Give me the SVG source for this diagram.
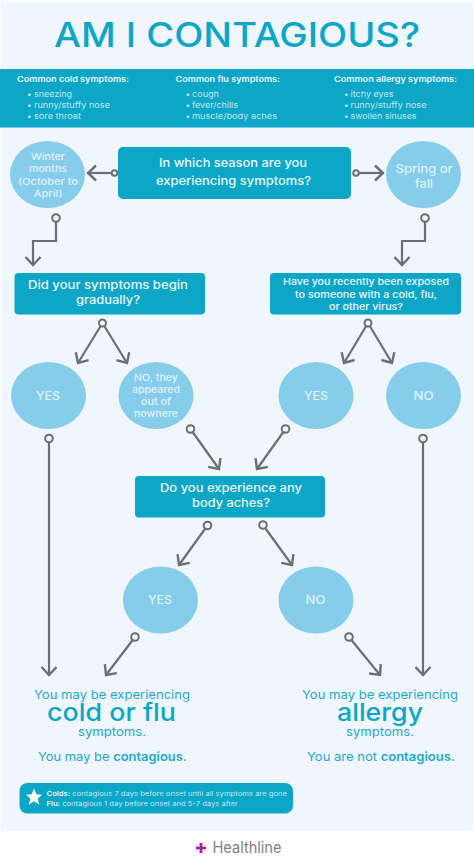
<svg xmlns="http://www.w3.org/2000/svg" width="474" height="861" viewBox="0 0 474 861">
<style>
text{font-family:Inter,"Noto Sans","DejaVu Sans",sans-serif;text-anchor:middle}
.box{fill:#0ea6c7}
.cir{fill:#85cdea}
.t{fill:#e8f7fb;font-weight:500}
.tc{fill:#dff3fa;font-weight:500}
.h{fill:#e8f7fb;font-size:8.200px;font-weight:600;text-anchor:start}
.li{fill:#bfe8f2;font-size:8.200px;font-weight:400;text-anchor:start}
.o{fill:#1fa9c9;font-size:12px;font-weight:400}
.b{font-weight:600}
.big{fill:#0ea6c7;font-size:24.500px;font-weight:500}
.lg{fill:#bfe8f2;font-size:6.500px;text-anchor:start}
.c{fill:none;stroke:#6d6e71;stroke-width:2.200}
.r{fill:#eff6fd;stroke:#6d6e71;stroke-width:2}
</style>
<defs>
<marker id="a" markerUnits="userSpaceOnUse" markerWidth="16" markerHeight="18" refX="11" refY="9" orient="auto" overflow="visible"><path d="M3 1.500L11 9L3 16.500" fill="none" stroke="#6d6e71" stroke-width="2.400"/></marker>
</defs>
<rect width="474" height="861" fill="#fff"/>
<rect x="1" y="2" width="472" height="829" fill="#eff6fd"/>
<text id="title" x="237" y="47" font-size="34" textLength="366" lengthAdjust="spacingAndGlyphs" style="fill:#0ea6c7;font-weight:500">AM I CONTAGIOUS?</text>
<g id="symptoms">
<rect y="69" width="474" height="58.500" class="box"/>
<text class="h" x="17" y="82" textLength="112" lengthAdjust="spacingAndGlyphs">Common cold symptoms:</text>
<text class="li" x="27" y="97"><tspan>•</tspan><tspan x="34" textLength="38" lengthAdjust="spacingAndGlyphs">sneezing</tspan></text>
<text class="li" x="27" y="108"><tspan>•</tspan><tspan x="34" textLength="76" lengthAdjust="spacingAndGlyphs">runny/stuffy nose</tspan></text>
<text class="li" x="27" y="119"><tspan>•</tspan><tspan x="34" textLength="47" lengthAdjust="spacingAndGlyphs">sore throat</tspan></text>
<text class="h" x="175.500" y="82" textLength="104.500" lengthAdjust="spacingAndGlyphs">Common flu symptoms:</text>
<text class="li" x="185.500" y="97"><tspan>•</tspan><tspan x="192" textLength="27" lengthAdjust="spacingAndGlyphs">cough</tspan></text>
<text class="li" x="185.500" y="108"><tspan>•</tspan><tspan x="192" textLength="46" lengthAdjust="spacingAndGlyphs">fever/chills</tspan></text>
<text class="li" x="185.500" y="119"><tspan>•</tspan><tspan x="192" textLength="85" lengthAdjust="spacingAndGlyphs">muscle/body aches</tspan></text>
<text class="h" x="334" y="82" textLength="123" lengthAdjust="spacingAndGlyphs">Common allergy symptoms:</text>
<text class="li" x="344" y="97"><tspan>•</tspan><tspan x="350.500" textLength="43" lengthAdjust="spacingAndGlyphs">itchy eyes</tspan></text>
<text class="li" x="344" y="108"><tspan>•</tspan><tspan x="350.500" textLength="76" lengthAdjust="spacingAndGlyphs">runny/stuffy nose</tspan></text>
<text class="li" x="344" y="119"><tspan>•</tspan><tspan x="350.500" textLength="66" lengthAdjust="spacingAndGlyphs">swollen sinuses</tspan></text>
</g>
<g id="connectors">
<path class="c" d="M114 173H88" marker-end="url(#a)"/>
<path class="c" d="M357 173H383" marker-end="url(#a)"/>
<path class="c" d="M56 218V241H33V265" marker-end="url(#a)"/>
<path class="c" d="M425 218V241H402V265" marker-end="url(#a)"/>
<path class="c" d="M102.500 323L78 363" marker-end="url(#a)"/>
<path class="c" d="M102.500 323L127 363" marker-end="url(#a)"/>
<path class="c" d="M368 323L344 363" marker-end="url(#a)"/>
<path class="c" d="M368 323L392 363" marker-end="url(#a)"/>
<path class="c" d="M49 439V675" marker-end="url(#a)"/>
<path class="c" d="M423 439V675" marker-end="url(#a)"/>
<path class="c" d="M190.500 429L219 469" marker-end="url(#a)"/>
<path class="c" d="M285.500 429L257 469" marker-end="url(#a)"/>
<path class="c" d="M207.500 525.500L179 565" marker-end="url(#a)"/>
<path class="c" d="M263 525L292 565" marker-end="url(#a)"/>
<path class="c" d="M135 637L106 675" marker-end="url(#a)"/>
<path class="c" d="M349 637L380 675" marker-end="url(#a)"/>
<circle class="r" cx="114.500" cy="173" r="2.800"/>
<circle class="r" cx="356" cy="173" r="2.800"/>
<circle class="r" cx="56" cy="218" r="3.800"/>
<circle class="r" cx="425" cy="218" r="3.800"/>
<circle class="r" cx="102.500" cy="323" r="3.500"/>
<circle class="r" cx="368" cy="323" r="3.500"/>
<circle class="r" cx="49" cy="438.500" r="3.800"/>
<circle class="r" cx="423" cy="438.500" r="3.800"/>
<circle class="r" cx="190.500" cy="429" r="3.800"/>
<circle class="r" cx="285.500" cy="429" r="3.800"/>
<circle class="r" cx="207.500" cy="525.500" r="3.800"/>
<circle class="r" cx="263" cy="525" r="3.800"/>
<circle class="r" cx="135" cy="637" r="3.800"/>
<circle class="r" cx="349" cy="637" r="3.800"/>
</g>
<g id="season">
<rect class="box" x="118" y="147" width="233" height="52" rx="5"/>
<text class="t" font-size="12" x="233" y="167" textLength="148" lengthAdjust="spacingAndGlyphs">In which season are you</text>
<text class="t" font-size="12" x="233.500" y="185" textLength="155" lengthAdjust="spacingAndGlyphs">experiencing symptoms?</text>
</g>
<g id="winter">
<ellipse class="cir" cx="47.500" cy="174.500" rx="37.500" ry="33.500"/>
<text class="tc" font-size="9.500" x="48" y="160" textLength="34" lengthAdjust="spacingAndGlyphs">Winter</text>
<text class="tc" font-size="9.500" x="48" y="172" textLength="38" lengthAdjust="spacingAndGlyphs">months</text>
<text class="tc" font-size="9.500" x="48" y="185" textLength="60" lengthAdjust="spacingAndGlyphs">(October to</text>
<text class="tc" font-size="9.500" x="48" y="197" textLength="29" lengthAdjust="spacingAndGlyphs">April)</text>
</g>
<g id="spring">
<ellipse class="cir" cx="423.500" cy="174.500" rx="37.500" ry="33.500"/>
<text class="tc" font-size="12" x="424" y="173" textLength="57" lengthAdjust="spacingAndGlyphs">Spring or</text>
<text class="tc" font-size="12" x="424" y="188" textLength="18" lengthAdjust="spacingAndGlyphs">fall</text>
</g>
<g id="gradual">
<rect class="box" x="14.500" y="273" width="190.500" height="41.500" rx="4"/>
<text class="t" font-size="11.500" x="108" y="289" textLength="160" lengthAdjust="spacingAndGlyphs">Did your symptoms begin</text>
<text class="t" font-size="11.500" x="108" y="304" textLength="64" lengthAdjust="spacingAndGlyphs">gradually?</text>
</g>
<g id="exposed">
<rect class="box" x="270" y="273" width="191" height="41.500" rx="4"/>
<text class="t" font-size="9.500" x="366" y="285" textLength="166" lengthAdjust="spacingAndGlyphs">Have you recently been exposed</text>
<text class="t" font-size="9.500" x="366" y="298" textLength="142" lengthAdjust="spacingAndGlyphs">to someone with a cold, flu,</text>
<text class="t" font-size="9.500" x="366" y="310" textLength="74" lengthAdjust="spacingAndGlyphs">or other virus?</text>
</g>
<g id="yes1">
<ellipse class="cir" cx="48.500" cy="395.500" rx="37.500" ry="33.500"/>
<text class="tc" font-size="11.500" x="48" y="400" textLength="24" lengthAdjust="spacingAndGlyphs">YES</text>
</g>
<g id="no1">
<ellipse class="cir" cx="156" cy="395.500" rx="37.500" ry="33.500"/>
<text class="tc" font-size="9.500" x="156" y="380.500" textLength="44" lengthAdjust="spacingAndGlyphs">NO, they</text>
<text class="tc" font-size="9.500" x="156" y="393" textLength="48" lengthAdjust="spacingAndGlyphs">appeared</text>
<text class="tc" font-size="9.500" x="156" y="405" textLength="30" lengthAdjust="spacingAndGlyphs">out of</text>
<text class="tc" font-size="9.500" x="156" y="417" textLength="44" lengthAdjust="spacingAndGlyphs">nowhere</text>
</g>
<g id="yes2">
<ellipse class="cir" cx="316" cy="395.500" rx="37.500" ry="33.500"/>
<text class="tc" font-size="11.500" x="316" y="400" textLength="24" lengthAdjust="spacingAndGlyphs">YES</text>
</g>
<g id="no2">
<ellipse class="cir" cx="423.500" cy="395.500" rx="37.500" ry="33.500"/>
<text class="tc" font-size="11.500" x="423.500" y="400" textLength="20" lengthAdjust="spacingAndGlyphs">NO</text>
</g>
<g id="aches">
<rect class="box" x="135" y="476" width="190" height="41.500" rx="4"/>
<text class="t" font-size="11.500" x="231" y="492" textLength="142" lengthAdjust="spacingAndGlyphs">Do you experience any</text>
<text class="t" font-size="11.500" x="231" y="507" textLength="78" lengthAdjust="spacingAndGlyphs">body aches?</text>
</g>
<g id="yes3">
<ellipse class="cir" cx="160.500" cy="600" rx="37.500" ry="33.500"/>
<text class="tc" font-size="11.500" x="160" y="604" textLength="24" lengthAdjust="spacingAndGlyphs">YES</text>
</g>
<g id="no3">
<ellipse class="cir" cx="316" cy="600" rx="37.500" ry="33.500"/>
<text class="tc" font-size="11.500" x="315.500" y="604" textLength="20" lengthAdjust="spacingAndGlyphs">NO</text>
</g>
<g id="cold-outcome">
<text class="o" x="112" y="699" textLength="156" lengthAdjust="spacingAndGlyphs">You may be experiencing</text>
<text class="big" x="111.500" y="721" textLength="129" lengthAdjust="spacingAndGlyphs">cold or flu</text>
<text class="o" x="112" y="736" textLength="68" lengthAdjust="spacingAndGlyphs">symptoms.</text>
<text class="o" x="112.500" y="761" textLength="149" lengthAdjust="spacingAndGlyphs">You may be <tspan class="b">contagious.</tspan></text>
</g>
<g id="allergy-outcome">
<text class="o" x="380" y="699" textLength="156" lengthAdjust="spacingAndGlyphs">You may be experiencing</text>
<text class="big" x="380" y="721" textLength="86" lengthAdjust="spacingAndGlyphs">allergy</text>
<text class="o" x="380" y="736" textLength="68" lengthAdjust="spacingAndGlyphs">symptoms.</text>
<text class="o" x="381" y="761" textLength="148" lengthAdjust="spacingAndGlyphs">You are not <tspan class="b">contagious.</tspan></text>
</g>
<g id="legend">
<rect class="box" x="19.500" y="783" width="273.500" height="30.500" rx="8"/>
<path d="M34 788.500L36.300 794.200L42 794.700L37.700 798.500L39.200 804.500L34 801.300L28.800 804.500L30.300 798.500L26 794.700L31.700 794.200Z" fill="#fff"/>
<text class="lg" x="46.500" y="795.500" textLength="240.500" lengthAdjust="spacingAndGlyphs"><tspan class="b" fill="#e8f7fb">Colds:</tspan> contagious 7 days before onset until all symptoms are gone</text>
<text class="lg" x="46.500" y="805.500" textLength="191.500" lengthAdjust="spacingAndGlyphs"><tspan class="b" fill="#e8f7fb">Flu:</tspan> contagious 1 day before onset and 5-7 days after</text>
</g>
<g id="brand">
<circle cx="201" cy="848" r="7" fill="#f1d9ec" opacity=".45"/>
<path d="M201 843V853M196 848H206" stroke="#a6218e" stroke-width="2.600"/>
<text x="247" y="853" font-size="15.500" textLength="69" lengthAdjust="spacingAndGlyphs" style="fill:#808184;font-weight:400">Healthline</text>
</g>
</svg>
